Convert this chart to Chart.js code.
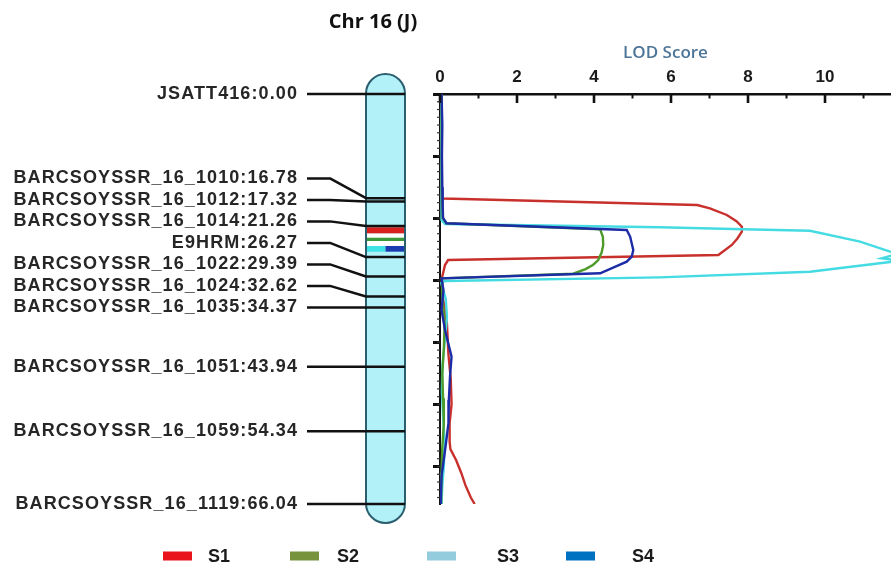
<!DOCTYPE html>
<html><head><meta charset="utf-8">
<script src="https://cdn.jsdelivr.net/npm/chart.js@4"></script>
<style>html,body{margin:0;padding:0;background:#fff}canvas{display:block}</style>
</head><body>
<canvas id="c" width="891" height="569"></canvas>
<script>
// ---------------- DATA ----------------
const chromTitle = 'Chr 16 (J)';
const axisTitle = 'LOD Score';
const markerNames = ['JSATT416','BARCSOYSSR_16_1010','BARCSOYSSR_16_1012','BARCSOYSSR_16_1014','E9HRM',
  'BARCSOYSSR_16_1022','BARCSOYSSR_16_1024','BARCSOYSSR_16_1035','BARCSOYSSR_16_1051','BARCSOYSSR_16_1059','BARCSOYSSR_16_1119'];
const markerPos = [0.00,16.78,17.32,21.26,26.27,29.39,32.62,34.37,43.94,54.34,66.04];

const seriesNames = ['S1','S2','S3','S4'];

const s1Pos = [0,4,8,12,16.67,16.83,17.88,18.41,19.49,20.5,21.38,22.18,23.3,24.32,25.93,26.74,27.55,29.64,33,37,42,46,50,53,56,57.2,59,61,63,65,66.04];
const s1Lod = [0.04,0.05,0.04,0.05,0.05,0.08,6.68,7.01,7.45,7.7,7.84,7.84,7.72,7.58,7.23,0.21,0.13,0.05,0.08,0.18,0.22,0.28,0.3,0.25,0.25,0.27,0.42,0.55,0.66,0.8,0.9];

const s2Pos = [0,5,10,15,19.97,20.83,21.8,23.0,24.32,25.5,26.74,27.5,28.2,28.95,29.7,33,37,41,45,49,53,57,61,66.04];
const s2Lod = [0.04,0.05,0.04,0.05,0.07,0.17,4.16,4.23,4.24,4.2,4.11,3.98,3.78,3.46,0.05,0.06,0.12,0.1,0.06,0.08,0.1,0.06,0.04,0.03];

const s3Pos = [0,5,10,15,20.3,20.94,21.47,21.79,22.02,23.79,25.4,25.7,26.47,26.8,27.06,28.62,29.53,30.12,30.45,33,36,40,44,48,52,56,60,63,66.04];
const s3Lod = [0.03,0.04,0.03,0.04,0.05,0.13,5.71,7.87,9.61,10.91,11.69,11.92,11.47,11.88,11.69,9.61,5.71,0.13,0.03,0.15,0.18,0.12,0.06,0.05,0.08,0.12,0.1,0.06,0.04];

const s4Pos = [0,5,10,15,18,19.97,20.83,21.91,23.0,25.13,26.2,27.0,28.88,29.69,31.6,34.8,38,42.3,45.5,49.3,53,56.5,61.6,65.4,66.04];
const s4Lod = [0.04,0.06,0.05,0.06,0.07,0.08,0.17,4.85,4.94,5.02,4.98,4.85,4.16,0.04,0.09,0.04,0.13,0.3,0.26,0.23,0.22,0.15,0.04,0.02,0.02];

// QTL intervals shown on the chromosome
const qtlSeries = ['S1','S2','S3','S4'];
const qtlStart = [21.47,23.15,24.48,24.48];
const qtlEnd   = [22.44,23.68,25.40,25.40];

const xTickValues = [0,2,4,6,8,10];
const xMinorValues = [1,3,5,7,9,11];
const yTickValues = [0,10,20,30,40,50,60];
const xMax = 11.714;

// ---------------- STYLE / LAYOUT ----------------
const lineColors   = ['#c8302c','#4e9a2a','#45dbe3','#1c2ba6'];
const legendColors = ['#e8131b','#77933c','#93cddd','#0070c0'];
const bandColors   = ['#d8201f','#3a9a3a','#3fe3e6','#1a3cb0'];
const drawOrder    = [4,2,3,1];
const bandHalf     = ['full','full','left','right'];
const L = {
  chromLeft:366, chromRight:405, capTop:20, capBot:19,
  chromFill:'#b2f1f8', chromStroke:'#2b5f70',
  labelRight:298, leadStart:307, leadBend:330, labelGap:21.5,
  titleX:373, titleY:22,
  legendY:556, legendSwatchX:[163,290,427,566], legendTextX:[208,337,497,632],
  swatchW:29, swatchH:9
};
const labelFont = 'bold 18px "Liberation Sans", Arial, sans-serif';

const seriesPos = [s1Pos,s2Pos,s3Pos,s4Pos];
const seriesLod = [s1Lod,s2Lod,s3Lod,s4Lod];

const genPlugin = {
  id:'gen',
  beforeDraw(chart){
    const c=chart.ctx; c.save(); c.fillStyle='#fff'; c.fillRect(0,0,chart.width,chart.height); c.restore();
  },
  afterDraw(chart){
    const ctx=chart.ctx, x=chart.scales.x, y=chart.scales.y, ca=chart.chartArea;
    ctx.save();
    // x axis ticks pointing downward
    ctx.strokeStyle='#111'; ctx.lineCap='butt';
    xTickValues.forEach(v=>{const px=x.getPixelForValue(v); ctx.lineWidth=2.6; ctx.beginPath(); ctx.moveTo(px,ca.top); ctx.lineTo(px,ca.top+9); ctx.stroke();});
    xMinorValues.forEach(v=>{const px=x.getPixelForValue(v); ctx.lineWidth=2; ctx.beginPath(); ctx.moveTo(px,ca.top); ctx.lineTo(px,ca.top+4.5); ctx.stroke();});
    // y minor ticks
    ctx.strokeStyle='#333'; ctx.lineWidth=1.2;
    for(let v=1.25; v<markerPos[markerPos.length-1]; v+=1.25){
      const py=y.getPixelForValue(v); ctx.beginPath(); ctx.moveTo(ca.left-3,py); ctx.lineTo(ca.left,py); ctx.stroke();
    }
    // title
    ctx.fillStyle='#111'; ctx.font='bold 20px "Open Sans", sans-serif'; ctx.textAlign='center'; ctx.textBaseline='middle';
    ctx.fillText(chromTitle, L.titleX, L.titleY);
    // chromosome
    const yTop=y.getPixelForValue(markerPos[0])-L.capTop;
    const yBot=y.getPixelForValue(markerPos[markerPos.length-1])+L.capBot;
    const xl=L.chromLeft, xr=L.chromRight, r=(xr-xl)/2, xc=(xl+xr)/2;
    ctx.beginPath();
    ctx.moveTo(xl,yTop+r); ctx.arc(xc,yTop+r,r,Math.PI,0); ctx.lineTo(xr,yBot-r); ctx.arc(xc,yBot-r,r,0,Math.PI); ctx.closePath();
    ctx.fillStyle=L.chromFill; ctx.fill();
    ctx.save(); ctx.clip();
    ctx.fillStyle='#ffffff';
    ctx.fillRect(xl, y.getPixelForValue(qtlEnd[0]), xr-xl, y.getPixelForValue(qtlStart[2])-y.getPixelForValue(qtlEnd[0]));
    qtlSeries.forEach((s,i)=>{
      const y1=y.getPixelForValue(qtlStart[i]), y2=y.getPixelForValue(qtlEnd[i]);
      let bx=xl, bw=xr-xl;
      if(bandHalf[i]==='left'){bw=(xr-xl)/2;} else if(bandHalf[i]==='right'){bx=xc; bw=(xr-xl)/2;}
      ctx.fillStyle=bandColors[seriesNames.indexOf(s)]; ctx.fillRect(bx,y1,bw,y2-y1);
    });
    ctx.restore();
    ctx.lineWidth=2; ctx.strokeStyle=L.chromStroke; ctx.stroke();
    // marker label positions (de-overlap, bottom-up)
    const mY=markerPos.map(p=>y.getPixelForValue(p));
    const lY=mY.slice();
    for(let i=mY.length-2;i>=0;i--){ lY[i]=Math.min(mY[i], lY[i+1]-L.labelGap); }
    ctx.strokeStyle='#111'; ctx.lineWidth=2.5; ctx.lineJoin='round';
    markerPos.forEach((p,i)=>{
      ctx.beginPath(); ctx.moveTo(L.leadStart,lY[i]); ctx.lineTo(L.leadBend,lY[i]); ctx.lineTo(xl,mY[i]); ctx.lineTo(xr,mY[i]); ctx.stroke();
    });
    ctx.font=labelFont; ctx.fillStyle='#262626'; ctx.textAlign='right'; ctx.textBaseline='middle';
    try{ctx.letterSpacing='1.1px';}catch(e){}
    markerPos.forEach((p,i)=>{ ctx.fillText(markerNames[i]+':'+p.toFixed(2), L.labelRight, lY[i]); });
    try{ctx.letterSpacing='0px';}catch(e){}
    // legend
    ctx.textAlign='left'; ctx.font='bold 18px "Liberation Sans", Arial, sans-serif'; ctx.fillStyle='#1a1a1a';
    seriesNames.forEach((n,i)=>{
      ctx.fillStyle=legendColors[i]; ctx.fillRect(L.legendSwatchX[i], L.legendY-L.swatchH/2, L.swatchW, L.swatchH);
      ctx.fillStyle='#1a1a1a'; ctx.fillText(n, L.legendTextX[i], L.legendY+1);
    });
    ctx.restore();
  }
};

new Chart(document.getElementById('c'), {
  type:'scatter',
  data:{ datasets: seriesNames.map((n,i)=>({
    label:n,
    data: seriesPos[i].map((p,j)=>({x:seriesLod[i][j], y:p})),
    borderColor: lineColors[i], backgroundColor: legendColors[i],
    borderWidth: 2.4, showLine:true, pointRadius:0, tension:0, fill:false, order: drawOrder[i]
  }))},
  options:{
    responsive:false, animation:false, devicePixelRatio:1,
    layout:{padding:{left:0,right:0,top:0,bottom:65}},
    plugins:{legend:{display:false}, tooltip:{enabled:false}, title:{display:false}},
    scales:{
      x:{ type:'linear', position:'top', min:0, max:xMax,
        afterBuildTicks:s=>{ s.ticks = xTickValues.map(v=>({value:v})); },
        afterFit:s=>{ s.height = 94; },
        ticks:{ padding:6, color:'#1a1a1a', font:{family:'"Liberation Sans", Arial, sans-serif', size:17, weight:'bold'}, maxRotation:0 },
        grid:{ display:false, drawTicks:false },
        border:{ display:true, color:'#111', width:2.5 },
        title:{ display:true, text:axisTitle, color:'#4d7598', font:{family:'"Open Sans", sans-serif', size:17, weight:'600'}, padding:{top:43,bottom:0} }
      },
      y:{ type:'linear', position:'left', reverse:true, min:markerPos[0], max:markerPos[markerPos.length-1],
        afterBuildTicks:s=>{ s.ticks = yTickValues.map(v=>({value:v})); },
        afterFit:s=>{ s.width = 440; },
        ticks:{ display:false },
        grid:{ display:true, drawOnChartArea:false, drawTicks:true, tickLength:7, tickWidth:3, tickColor:'#111' },
        border:{ display:true, color:'#111', width:2 }
      }
    }
  },
  plugins:[genPlugin]
});
</script>
</body></html>
